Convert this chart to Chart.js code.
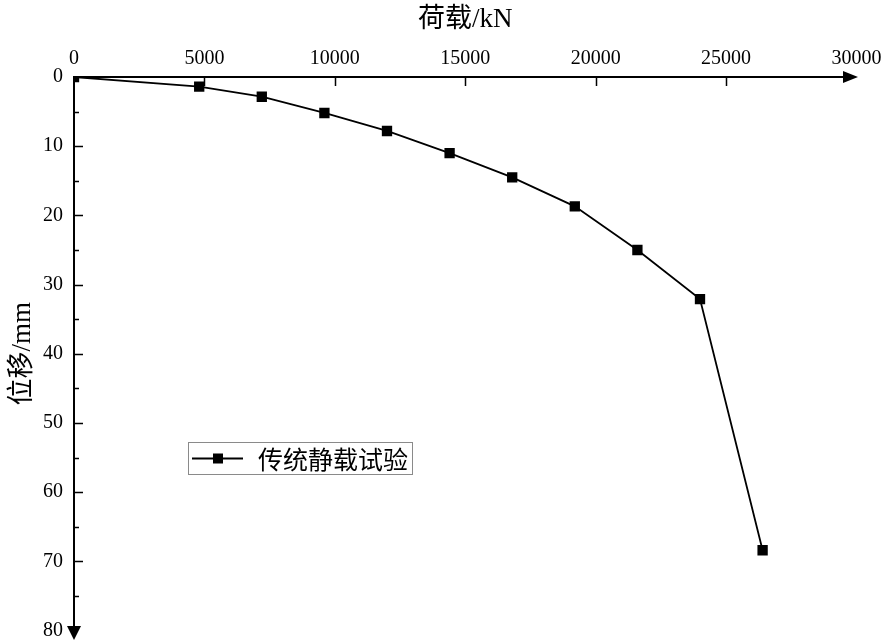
<!DOCTYPE html>
<html>
<head>
<meta charset="utf-8">
<script src="https://cdn.jsdelivr.net/npm/chart.js@4/dist/chart.umd.min.js"></script>
<style>
  html, body { margin: 0; padding: 0; background: #fff; }
  #wrap { width: 887px; height: 641px; }
</style>
</head>
<body>
<div id="wrap"><canvas id="c" width="887" height="641"></canvas></div>
<script>
// Static load test: load (kN) vs settlement (mm)
const loads = [0, 4800, 7200, 9600, 12000, 14400, 16800, 19200, 21600, 24000, 26400];
const settlements = [0, 1.4, 2.85, 5.2, 7.8, 11.0, 14.5, 18.7, 25.0, 32.1, 68.4];
const seriesName = '传统静载试验';

const xTicks = [0, 5000, 10000, 15000, 20000, 25000, 30000];
const yTicks = [0, 10, 20, 30, 40, 50, 60, 70, 80];
const yMinorTicks = [5, 15, 25, 35, 45, 55, 65, 75];
const xTitle = '荷载/kN';
const yTitle = '位移/mm';

const LATIN = '"Liberation Serif", "Times New Roman", serif';
const MIXED = '"Liberation Serif", "Noto Sans CJK SC", serif';

// Axis lines with arrows and inward tick marks
const axesPlugin = {
  id: 'arrowAxes',
  afterDatasetsDraw(chart) {
    const { ctx, chartArea: a, scales: { x, y } } = chart;
    ctx.save();
    ctx.strokeStyle = '#000';
    ctx.fillStyle = '#000';

    // horizontal axis along the top
    const xTip = a.right + 1.5;
    ctx.lineWidth = 2;
    ctx.beginPath();
    ctx.moveTo(a.left - 1, a.top);
    ctx.lineTo(xTip - 12, a.top);
    ctx.stroke();
    ctx.beginPath();
    ctx.moveTo(xTip, a.top);
    ctx.lineTo(xTip - 15, a.top - 6);
    ctx.lineTo(xTip - 15, a.top + 6);
    ctx.closePath();
    ctx.fill();

    // vertical axis along the left
    const yTip = a.bottom + 9.5;
    ctx.beginPath();
    ctx.moveTo(a.left, a.top - 1);
    ctx.lineTo(a.left, yTip - 12);
    ctx.stroke();
    ctx.beginPath();
    ctx.moveTo(a.left, yTip);
    ctx.lineTo(a.left - 7, yTip - 14);
    ctx.lineTo(a.left + 7, yTip - 14);
    ctx.closePath();
    ctx.fill();

    ctx.lineWidth = 1.5;
    ctx.beginPath();
    xTicks.slice(1, -1).forEach(v => {
      const px = Math.round(x.getPixelForValue(v)) + 0.5;
      ctx.moveTo(px, a.top);
      ctx.lineTo(px, a.top + 9);
    });
    yTicks.slice(1, -1).forEach(v => {
      const py = Math.round(y.getPixelForValue(v)) + 0.5;
      ctx.moveTo(a.left, py);
      ctx.lineTo(a.left + 9, py);
    });
    yMinorTicks.forEach(v => {
      const py = Math.round(y.getPixelForValue(v)) + 0.5;
      ctx.moveTo(a.left, py);
      ctx.lineTo(a.left + 5, py);
    });
    ctx.stroke();
    ctx.restore();
  }
};

// Boxed legend inside the plot
const legendBoxPlugin = {
  id: 'legendBox',
  afterDraw(chart) {
    const { ctx } = chart;
    const ds = chart.data.datasets[0];
    const bx = 188.5, by = 442.5, bw = 224, bh = 32;
    const cy = by + bh / 2;
    ctx.save();
    ctx.strokeStyle = '#8a8a8a';
    ctx.lineWidth = 1;
    ctx.strokeRect(bx, by, bw, bh);
    ctx.strokeStyle = ds.borderColor;
    ctx.lineWidth = ds.borderWidth;
    ctx.beginPath();
    ctx.moveTo(192, cy);
    ctx.lineTo(243, cy);
    ctx.stroke();
    ctx.fillStyle = ds.pointBackgroundColor;
    ctx.fillRect(218 - 5, cy - 5, 10, 10);
    ctx.fillStyle = '#000';
    ctx.font = '25px "Noto Sans CJK SC", sans-serif';
    ctx.textBaseline = 'middle';
    ctx.textAlign = 'left';
    ctx.fillText(ds.label, 258, cy + 1);
    ctx.restore();
  }
};

function fixBox(size) {
  return function (scale) {
    if (scale.isHorizontal()) scale.height = size; else scale.width = size;
    scale.paddingTop = 0; scale.paddingBottom = 0;
    scale.paddingLeft = 0; scale.paddingRight = 0;
  };
}

new Chart(document.getElementById('c'), {
  type: 'line',
  data: {
    datasets: [{
      label: seriesName,
      data: loads.map((v, i) => ({ x: v, y: settlements[i] })),
      borderColor: '#000',
      borderWidth: 1.8,
      pointStyle: 'rect',
      pointRadius: 7.3,
      pointHoverRadius: 7.3,
      pointBackgroundColor: '#000',
      pointBorderColor: '#000',
      pointBorderWidth: 0,
      tension: 0,
      fill: false,
      clip: 0
    }]
  },
  options: {
    responsive: false,
    animation: false,
    devicePixelRatio: 1,
    layout: { padding: { left: 0, top: 0, right: 30.5, bottom: 10.5 } },
    plugins: {
      legend: { display: false },
      tooltip: { enabled: false }
    },
    scales: {
      x: {
        type: 'linear',
        position: 'top',
        min: 0,
        max: 30000,
        afterBuildTicks: s => { s.ticks = xTicks.map(v => ({ value: v })); },
        afterFit: fixBox(77),
        grid: { display: false, drawTicks: false },
        border: { display: false },
        ticks: {
          color: '#000',
          font: { family: LATIN, size: 20 },
          padding: 6,
          maxRotation: 0,
          autoSkip: false,
          callback: v => String(v)
        },
        title: {
          display: true,
          text: xTitle,
          color: '#000',
          font: { family: MIXED, size: 27 },
          padding: { top: 4, bottom: 0 }
        }
      },
      y: {
        type: 'linear',
        reverse: true,
        min: 0,
        max: 80,
        afterBuildTicks: s => { s.ticks = yTicks.map(v => ({ value: v })); },
        afterFit: fixBox(74),
        grid: { display: false, drawTicks: false },
        border: { display: false },
        ticks: {
          color: '#000',
          font: { family: LATIN, size: 20 },
          padding: 11,
          autoSkip: false,
          callback: v => String(v)
        },
        title: {
          display: true,
          text: yTitle,
          color: '#000',
          font: { family: MIXED, size: 27 },
          padding: { top: 7, bottom: 0 }
        }
      }
    }
  },
  plugins: [axesPlugin, legendBoxPlugin]
});
</script>
</body>
</html>
